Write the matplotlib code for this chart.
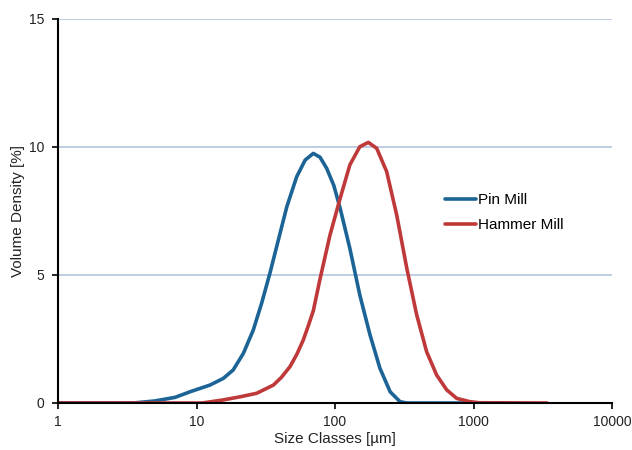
import matplotlib
matplotlib.use('Agg')
from matplotlib import pyplot as plt

plt.rcParams['font.family'] = ['Liberation Sans', 'DejaVu Sans']

# size classes (um) and volume density (%)
pin_sizes = [1, 3.5, 5, 7, 9, 12.5, 15.6, 18.4, 21.8, 25.7, 29.5, 33.9, 39, 44.9, 52.9,
             60.9, 69.7, 78, 87, 98, 109, 128, 151, 179, 211, 250, 295, 330, 900]
pin_density = [0, 0, 0.08, 0.22, 0.44, 0.70, 0.96, 1.29, 1.94, 2.85, 3.89, 5.07, 6.37, 7.67, 8.84,
               9.49, 9.75, 9.6, 9.17, 8.5, 7.6, 6.04, 4.22, 2.66, 1.36, 0.44, 0.05, 0, 0]

hammer_sizes = [1, 11, 15.6, 21, 27.2, 35.9, 41, 47.3, 53, 59, 64, 69.7, 78, 92, 109, 128,
                151, 174, 200, 236, 279, 330, 389, 459, 542, 641, 757, 944, 1100, 3400]
hammer_density = [0, 0, 0.12, 0.25, 0.38, 0.70, 1.0, 1.42, 1.9, 2.46, 3.0, 3.6, 4.85, 6.56, 8.0, 9.3,
                  10.01, 10.18, 9.95, 9.04, 7.34, 5.26, 3.44, 2.0, 1.09, 0.51, 0.18, 0.05, 0.01, 0]

y_ticks = [0, 5, 10, 15]
x_ticks = [1, 10, 100, 1000, 10000]

fig = plt.figure(figsize=(6.32, 4.5), dpi=100)
ax = fig.add_axes([58 / 632, 1 - 403 / 450, (612 - 58) / 632, (403 - 19) / 450])

ax.plot(pin_sizes, pin_density, color='#1c6496', lw=2.6, label='Pin Mill',
        solid_capstyle='round', solid_joinstyle='round')
ax.plot(hammer_sizes, hammer_density, color='#c0393a', lw=2.6, label='Hammer Mill',
        solid_capstyle='round', solid_joinstyle='round')

ax.set_xscale('log')
ax.set_xlim(1, 10000)
ax.set_ylim(0, 15)
ax.set_xticks(x_ticks)
ax.set_xticklabels([str(t) for t in x_ticks])
ax.minorticks_off()
ax.set_yticks(y_ticks)
ax.yaxis.grid(True, color='#b3c6de', lw=1.2)
ax.set_axisbelow(True)

for s in ['top', 'right']:
    ax.spines[s].set_visible(False)
for s in ['left', 'bottom']:
    ax.spines[s].set_linewidth(1.5)
    ax.spines[s].set_color('black')
    ax.spines[s].set_zorder(3)

ax.tick_params(axis='both', which='major', labelsize=10, length=4, width=1.2,
               colors='black', labelcolor='#222222')
ax.tick_params(axis='x', pad=5)
ax.tick_params(axis='y', pad=6)

ax.set_xlabel('Size Classes [µm]', fontsize=11, color='#222222', labelpad=2)
ax.set_ylabel('Volume Density [%]', fontsize=11, color='#222222', labelpad=3)

leg = ax.legend(loc='upper left', bbox_to_anchor=(0.699, 0.547), frameon=False,
                borderaxespad=0, borderpad=0, fontsize=11, handlelength=2.0,
                handletextpad=0.15, labelspacing=0.72)

fig.savefig('out.png', dpi=100)
